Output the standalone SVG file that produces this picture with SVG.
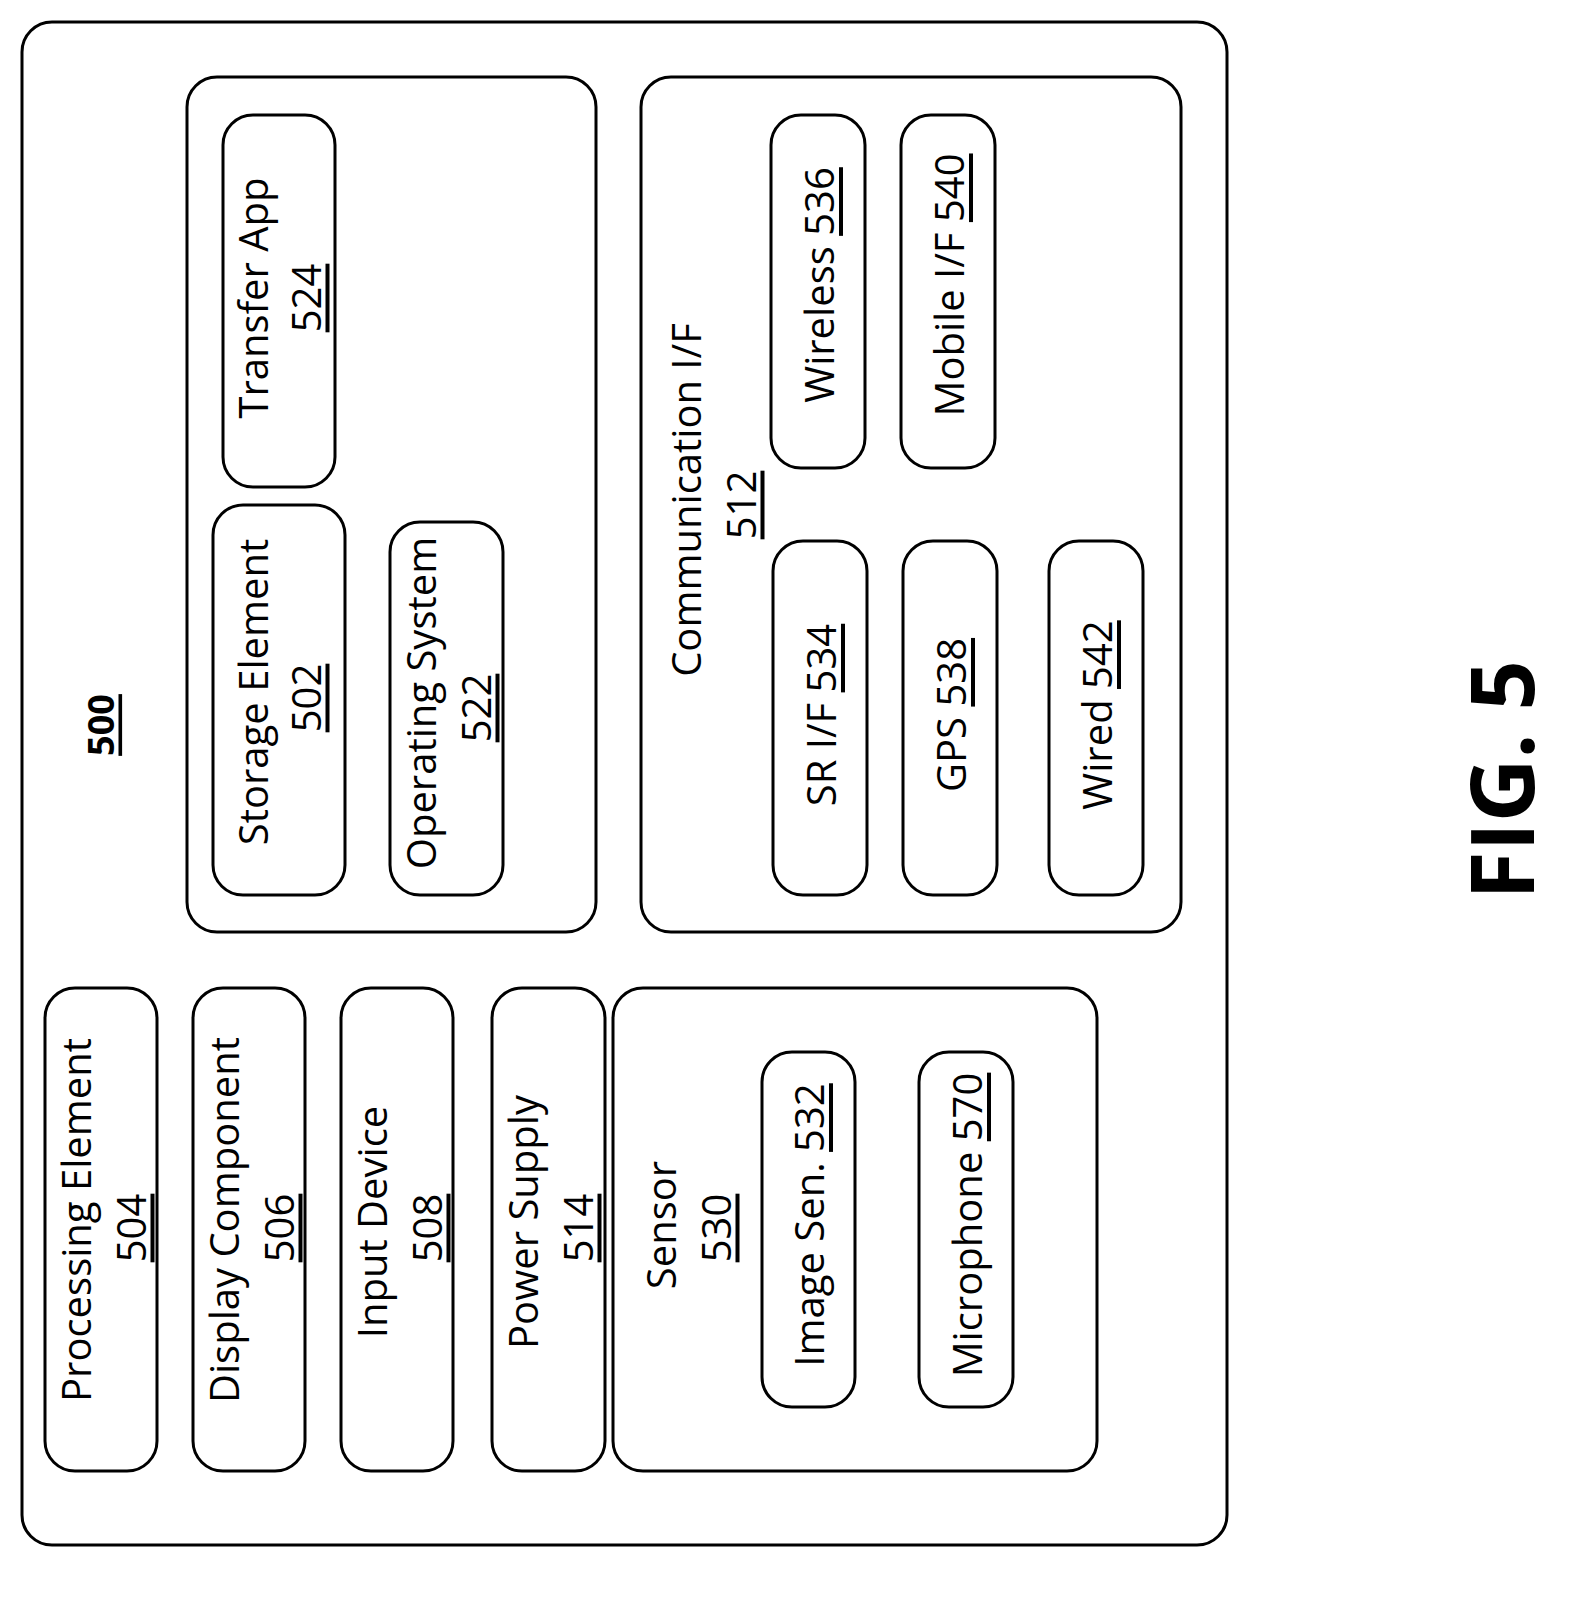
<svg xmlns="http://www.w3.org/2000/svg" width="1587" height="1603" viewBox="0 0 1587 1603">
<style>
rect{fill:#fff;stroke:#000;stroke-width:3}
text{font-family:"Open Sans","Liberation Sans",sans-serif;font-size:40px;fill:#000;text-anchor:middle;dominant-baseline:central}
.u{text-decoration:underline}
</style>
<rect width="1587" height="1603" style="stroke:none"/>
<g id="n500"><rect x="22" y="22" width="1205" height="1523" rx="30"/>
<text transform="translate(100,725) rotate(-90)" class="u" font-weight="bold" style="font-size:36px">500</text></g>
<g id="storage"><rect x="187" y="77" width="409" height="855" rx="30"/></g>
<g id="n524"><rect x="223" y="115" width="112" height="372" rx="30"/>
<text transform="translate(252,298) rotate(-90)">Transfer App</text><text transform="translate(305,298) rotate(-90)" class="u">524</text></g>
<g id="n502"><rect x="213" y="505" width="132" height="390" rx="30"/>
<text transform="translate(252,692) rotate(-90)">Storage Element</text><text transform="translate(305,698) rotate(-90)" class="u">502</text></g>
<g id="n522"><rect x="390" y="522" width="113" height="373" rx="30"/>
<text transform="translate(420,703) rotate(-90)">Operating System</text><text transform="translate(475,708) rotate(-90)" class="u">522</text></g>
<g id="n512"><rect x="641" y="77" width="540" height="855" rx="30"/>
<text transform="translate(685,500) rotate(-90)">Communication I/F</text><text transform="translate(740,505) rotate(-90)" class="u">512</text></g>
<g id="n536"><rect x="771" y="115" width="94" height="353" rx="30"/>
<text transform="translate(818,285) rotate(-90)">Wireless <tspan class="u">536</tspan></text></g>
<g id="n540"><rect x="901" y="115" width="94" height="353" rx="30"/>
<text transform="translate(948,285) rotate(-90)">Mobile I/F <tspan class="u">540</tspan></text></g>
<g id="n534"><rect x="773" y="541" width="94" height="354" rx="30"/>
<text transform="translate(820,715) rotate(-90)">SR I/F <tspan class="u">534</tspan></text></g>
<g id="n538"><rect x="903" y="541" width="94" height="354" rx="30"/>
<text transform="translate(950,715) rotate(-90)">GPS <tspan class="u">538</tspan></text></g>
<g id="n542"><rect x="1049" y="541" width="94" height="354" rx="30"/>
<text transform="translate(1096,715) rotate(-90)">Wired <tspan class="u">542</tspan></text></g>
<g id="n504"><rect x="45" y="988" width="112" height="483" rx="30"/>
<text transform="translate(75,1220) rotate(-90)">Processing Element</text><text transform="translate(130,1228) rotate(-90)" class="u">504</text></g>
<g id="n506"><rect x="193" y="988" width="112" height="483" rx="30"/>
<text transform="translate(223,1220) rotate(-90)">Display Component</text><text transform="translate(278,1228) rotate(-90)" class="u">506</text></g>
<g id="n508"><rect x="341" y="988" width="112" height="483" rx="30"/>
<text transform="translate(371,1222) rotate(-90)">Input Device</text><text transform="translate(426,1228) rotate(-90)" class="u">508</text></g>
<g id="n514"><rect x="492" y="988" width="113" height="483" rx="30"/>
<text transform="translate(522,1222) rotate(-90)">Power Supply</text><text transform="translate(577,1228) rotate(-90)" class="u">514</text></g>
<g id="n530"><rect x="613" y="988" width="484" height="483" rx="30"/>
<text transform="translate(660,1225) rotate(-90)">Sensor</text><text transform="translate(715,1228) rotate(-90)" class="u">530</text></g>
<g id="n532"><rect x="762" y="1052" width="93" height="355" rx="30"/>
<text transform="translate(808,1225) rotate(-90)">Image Sen. <tspan class="u">532</tspan></text></g>
<g id="n570"><rect x="919" y="1052" width="94" height="355" rx="30"/>
<text transform="translate(966,1225) rotate(-90)">Microphone <tspan class="u">570</tspan></text></g>
<g id="connectors"></g>
<text transform="translate(1500,780) rotate(-90)" font-weight="bold" style="font-size:88px">FIG. 5</text>
</svg>
